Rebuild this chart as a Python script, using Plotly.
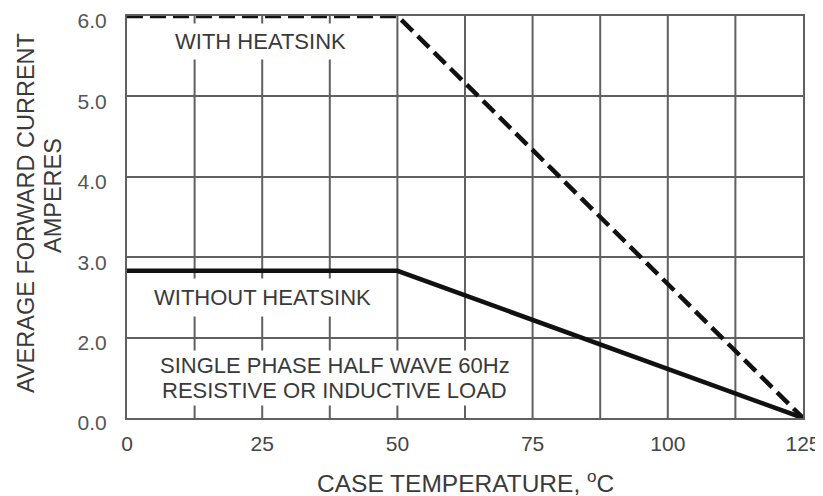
import plotly.graph_objects as go

# ---- data ----
case_temp = [0, 50, 125]
with_heatsink = [6.0, 6.0, 0.0]
without_heatsink = [2.83, 2.83, 0.0]

x_ticks = [0, 25, 50, 75, 100, 125]
x_grid = [12.5 * i for i in range(11)]
y_tick_values = [0.0, 2.0, 3.0, 4.0, 5.0, 6.0]
y_tick_labels = ["0.0", "2.0", "3.0", "4.0", "5.0", "6.0"]

# The printed axis is evenly spaced between its labels (0.0 .. 2.0 is one division)
def ypos(v):
    return v if v >= 2.0 else 1.0 + v / 2.0

FONT = "Arial, Liberation Sans, sans-serif"
GRID = "#606060"
TXT = "#3a3a3a"

fig = go.Figure()
fig.add_trace(go.Scatter(
    x=case_temp, y=[ypos(v) for v in with_heatsink], mode="lines",
    line=dict(color="#111111", width=4.5, dash="16px,7px"), showlegend=False,
    hoverinfo="skip", cliponaxis=False))
fig.add_trace(go.Scatter(
    x=case_temp, y=[ypos(v) for v in without_heatsink], mode="lines",
    line=dict(color="#111111", width=4.5), showlegend=False, hoverinfo="skip"))

ann_font = dict(family=FONT, size=22, color=TXT)
annotations = [
    dict(x=24.6, y=5.68, text="WITH HEATSINK", showarrow=False, font=ann_font,
         bgcolor="white", borderpad=5, xref="x", yref="y"),
    dict(x=25.1, y=ypos(2.5), text="WITHOUT HEATSINK", showarrow=False, font=ann_font,
         bgcolor="white", borderpad=6, xref="x", yref="y"),
    dict(x=38.5, y=1.647, text="SINGLE PHASE HALF WAVE 60Hz",
         showarrow=False, font=ann_font, bgcolor="white", borderpad=2, xref="x", yref="y"),
    dict(x=38.3, y=1.348, text="RESISTIVE OR INDUCTIVE LOAD",
         showarrow=False, font=ann_font, bgcolor="white", borderpad=2, xref="x", yref="y"),
    # axis titles
    dict(x=0.5, y=0, xref="paper", yref="paper", yshift=-63, xanchor="center", yanchor="middle",
         text="CASE TEMPERATURE, <sup>o</sup>C", showarrow=False,
         font=dict(family=FONT, size=24.5, color=TXT)),
    dict(x=0, y=0.5, xref="paper", yref="paper", xshift=-101, yshift=4, textangle=-90,
         xanchor="center", yanchor="middle", text="AVERAGE FORWARD CURRENT", showarrow=False,
         font=dict(family=FONT, size=23.5, color=TXT)),
    dict(x=0, y=0.5, xref="paper", yref="paper", xshift=-74, yshift=21, textangle=-90,
         xanchor="center", yanchor="middle", text="AMPERES", showarrow=False,
         font=dict(family=FONT, size=23.5, color=TXT)),
]

# page body has an 8px margin, so the figure is sized to fit the 823x496 window
fig.update_layout(
    width=815, height=488,
    margin=dict(l=119, r=20, t=8, b=78),
    paper_bgcolor="white", plot_bgcolor="white",
    font=dict(family=FONT, color=TXT),
    annotations=annotations,
    xaxis=dict(
        range=[0, 125], tickvals=x_ticks, ticktext=[str(t) for t in x_ticks],
        showgrid=False, zeroline=False, automargin=False, ticklabeloverflow="allow",
        ticks="outside", ticklen=6, tickcolor="rgba(0,0,0,0)",
        showline=True, linecolor=GRID, linewidth=2, mirror=True,
        tickfont=dict(family=FONT, size=21, color="#444444"),
    ),
    yaxis=dict(
        range=[1, 6], tickvals=[ypos(v) for v in y_tick_values], ticktext=y_tick_labels,
        showgrid=True, gridcolor=GRID, gridwidth=2, zeroline=False, automargin=False,
        ticklabeloverflow="allow", ticklabelshift=5,
        showline=True, linecolor=GRID, linewidth=2, mirror=True,
        ticks="outside", ticklen=14, tickcolor="rgba(0,0,0,0)",
        tickfont=dict(family=FONT, size=21, color="#555555"),
    ),
)

# vertical grid lines every 12.5 degrees
for gx in x_grid[1:-1]:
    fig.add_shape(type="line", x0=gx, x1=gx, y0=0, y1=1, xref="x", yref="paper",
                  line=dict(color=GRID, width=2), layer="below")

fig.write_html("out.html")
